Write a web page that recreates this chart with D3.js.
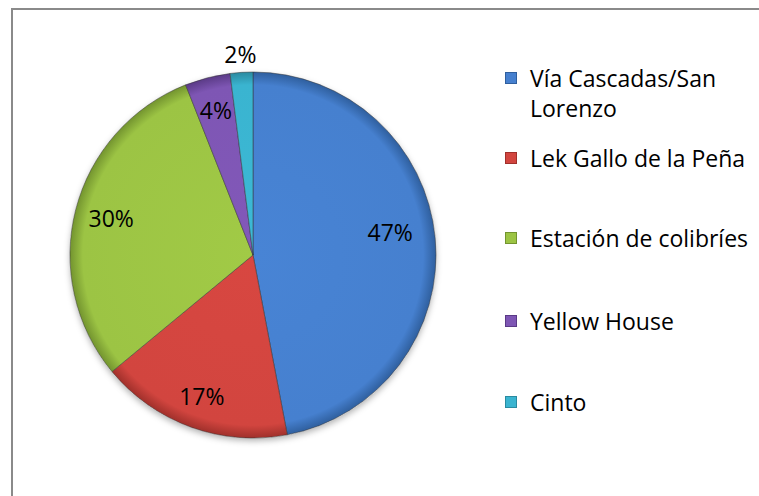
<!DOCTYPE html>
<html><head><meta charset="utf-8">
<script src="https://cdn.jsdelivr.net/npm/d3@7"></script>
<style>body{margin:0;background:#fff}svg{display:block}</style>
</head><body><svg id="c" width="759" height="496"></svg>
<script>
const categories = ["Vía Cascadas/San Lorenzo", "Lek Gallo de la Peña", "Estación de colibríes", "Yellow House", "Cinto"];
const legendLines = [["Vía Cascadas/San", "Lorenzo"], ["Lek Gallo de la Peña"], ["Estación de colibríes"], ["Yellow House"], ["Cinto"]];
const values = [47, 17, 30, 4, 2];
const colors = ["#4680cf", "#d2453f", "#9cc444", "#7e56b4", "#3ab4d0"];
const darkColors = ["#2f5f9e", "#a0302b", "#73942f", "#5a3a86", "#2a8aa0"];

// layout constants for label placement
const labelR = [0.76, 0.825, 0.80, 0.815, 1.095];
const labelShiftDeg = [-4, 0, 0, 0, 0];
const legendBaselines = [87, 167, 247, 330, 411];

const svg = d3.select("#c");
const font = "'Open Sans', 'Noto Sans', sans-serif";

// frame
svg.append("path").attr("d", "M12,496 L12,9 L759,9").attr("fill", "none").attr("stroke", "#8a8a8a").attr("stroke-width", 2);

const cx = 253, cy = 255, r = 183;
const defs = svg.append("defs");
colors.forEach((c, i) => {
  const g = defs.append("radialGradient").attr("id", "g" + i)
    .attr("gradientUnits", "userSpaceOnUse").attr("cx", 0).attr("cy", 0).attr("r", r)
    .attr("fx", 0).attr("fy", 0);
  g.append("stop").attr("offset", "0").attr("stop-color", d3.color(c).brighter(0.08));
  g.append("stop").attr("offset", "0.93").attr("stop-color", c);
  g.append("stop").attr("offset", "1").attr("stop-color", darkColors[i]);
});
const f = defs.append("filter").attr("id", "sh").attr("x", "-10%").attr("y", "-10%").attr("width", "120%").attr("height", "120%");
f.append("feDropShadow").attr("dx", 0).attr("dy", 3).attr("stdDeviation", 3).attr("flood-color", "#000").attr("flood-opacity", 0.3);

const pie = d3.pie().sort(null).value(d => d);
const arcs = pie(values);
const arc = d3.arc().innerRadius(0).outerRadius(r);
const g = svg.append("g").attr("transform", `translate(${cx},${cy})`);
g.append("circle").attr("r", r).attr("fill", "#fff").attr("filter", "url(#sh)");
g.selectAll("path.s").data(arcs).join("path").attr("class", "s")
  .attr("d", arc)
  .attr("fill", (d, i) => `url(#g${i})`)
  .attr("stroke", "#333").attr("stroke-opacity", 0.5).attr("stroke-width", 1);

// labels
g.selectAll("text.l").data(arcs).join("text").attr("class", "l")
  .attr("transform", (d, i) => {
    const a = (d.startAngle + d.endAngle) / 2 + labelShiftDeg[i] * Math.PI / 180;
    const rr = r * labelR[i];
    return `translate(${rr * Math.sin(a)},${-rr * Math.cos(a)})`;
  })
  .attr("text-anchor", "middle").attr("dy", "0.36em")
  .attr("font-family", font).attr("font-size", 23).attr("fill", "#000")
  .text(d => d.data + "%");

// legend
const lg = svg.append("g");
categories.forEach((c, i) => {
  const b = legendBaselines[i];
  lg.append("rect").attr("x", 505.5).attr("y", b - 14.5).attr("width", 11).attr("height", 11)
    .attr("fill", colors[i]).attr("stroke", darkColors[i]).attr("stroke-width", 1);
  legendLines[i].forEach((t, j) => {
    lg.append("text").attr("x", 530).attr("y", b + j * 30)
      .attr("font-family", font).attr("font-size", 23).attr("fill", "#000").text(t);
  });
});
</script></body></html>
